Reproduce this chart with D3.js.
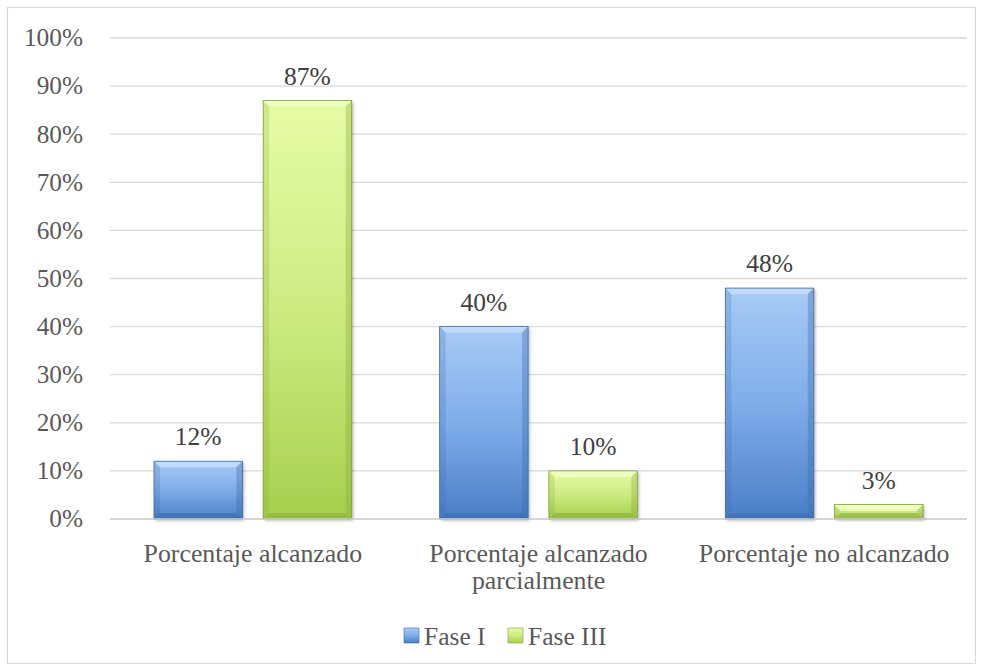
<!DOCTYPE html>
<html>
<head>
<meta charset="utf-8">
<script src="https://cdn.jsdelivr.net/npm/d3@7"></script>
<style>
  html, body { margin: 0; padding: 0; background: #fff; }
  svg { display: block; }
</style>
</head>
<body>
<svg id="chart" width="983" height="671"></svg>
<script>
const categories = [["Porcentaje alcanzado"], ["Porcentaje alcanzado", "parcialmente"], ["Porcentaje no alcanzado"]];
const seriesNames = ["Fase I", "Fase III"];
const faseI = [12, 40, 48];
const faseIII = [87, 10, 3];
const yTicks = [0, 10, 20, 30, 40, 50, 60, 70, 80, 90, 100];

const FONT = "Liberation Serif";
const svg = d3.select("#chart");
const W = 983, H = 671;
const plot = { left: 110, right: 967, top: 38, bottom: 519 };

// frame
svg.append("rect").attr("x", 7.5).attr("y", 7.5).attr("width", W - 15).attr("height", H - 15)
  .attr("fill", "#fff").attr("stroke", "#d9d9d9").attr("stroke-width", 1.2);

const defs = svg.append("defs");
const palettes = [
  { id: "gI", top: "#a9cbf6", mid: "#7fadea", bot: "#4a7ec6", edge: "#3d68a3", light: "#c7defb", dark: "#3a67a6" },
  { id: "gIII", top: "#e6fca6", mid: "#cdeb82", bot: "#a6cf4c", edge: "#7f9e37", light: "#f2ffc6", dark: "#86a93a" }
];
palettes.forEach(p => {
  const g = defs.append("linearGradient").attr("id", p.id).attr("x1", 0).attr("y1", 0).attr("x2", 0).attr("y2", 1);
  g.append("stop").attr("offset", "0%").attr("stop-color", p.top);
  g.append("stop").attr("offset", "50%").attr("stop-color", p.mid);
  g.append("stop").attr("offset", "100%").attr("stop-color", p.bot);
});
const sh = defs.append("filter").attr("id", "shadow").attr("x", "-20%").attr("y", "-20%").attr("width", "140%").attr("height", "140%");
sh.append("feDropShadow").attr("dx", 1.5).attr("dy", 1.5).attr("stdDeviation", 1.5).attr("flood-color", "#000").attr("flood-opacity", 0.3);

const x0 = d3.scaleBand().domain(d3.range(categories.length)).range([plot.left, plot.right]).paddingInner(0).paddingOuter(0);
const x1 = d3.scaleBand().domain(d3.range(seriesNames.length)).range([44, x0.bandwidth() - 44]).paddingInner(0.19);
const y = d3.scaleLinear().domain([0, 100]).range([plot.bottom, plot.top]);

// gridlines
svg.append("g").selectAll("line").data(yTicks).join("line")
  .attr("x1", plot.left).attr("x2", plot.right)
  .attr("y1", d => y(d)).attr("y2", d => y(d))
  .attr("stroke", "#d9d9d9").attr("stroke-width", 1.3);

// y tick labels
svg.append("g").selectAll("text").data(yTicks).join("text")
  .attr("x", 83).attr("y", d => y(d)).attr("dy", "0.33em")
  .attr("text-anchor", "end").attr("font-family", FONT).attr("font-size", 25.3).attr("fill", "#595959")
  .text(d => d + "%");

const seriesData = [faseI, faseIII];
const bars = [];
seriesData.forEach((vals, s) => {
  vals.forEach((v, i) => bars.push({ s, i, v }));
});

const bw = x1.bandwidth();
const bev = 6;
const gBars = svg.append("g");
bars.forEach(b => {
  const p = palettes[b.s];
  const bx = x0(b.i) + x1(b.s);
  const by = y(b.v);
  const bh = y(0) - by;
  const e = Math.min(bev, bh / 2);
  const g = gBars.append("g");
  g.append("rect").attr("x", bx).attr("y", by).attr("width", bw).attr("height", bh)
    .attr("fill", `url(#${p.id})`).attr("filter", "url(#shadow)");
  // bevel edges
  g.append("polygon").attr("points", [[bx, by], [bx + bw, by], [bx + bw - e, by + e], [bx + e, by + e]].join(" "))
    .attr("fill", p.light).attr("opacity", 0.85);
  g.append("polygon").attr("points", [[bx, by], [bx + e, by + e], [bx + e, by + bh - e], [bx, by + bh]].join(" "))
    .attr("fill", p.dark).attr("opacity", 0.22);
  g.append("polygon").attr("points", [[bx + bw, by], [bx + bw, by + bh], [bx + bw - e, by + bh - e], [bx + bw - e, by + e]].join(" "))
    .attr("fill", p.dark).attr("opacity", 0.35);
  g.append("polygon").attr("points", [[bx, by + bh], [bx + e, by + bh - e], [bx + bw - e, by + bh - e], [bx + bw, by + bh]].join(" "))
    .attr("fill", p.dark).attr("opacity", 0.55);
  g.append("rect").attr("x", bx).attr("y", by).attr("width", bw).attr("height", bh)
    .attr("fill", "none").attr("stroke", p.edge).attr("stroke-width", 0.8);
  // value label
  svg.append("text").attr("x", bx + bw / 2).attr("y", by - 16)
    .attr("text-anchor", "middle").attr("font-family", FONT).attr("font-size", 25.5).attr("fill", "#404040")
    .text(b.v + "%");
});

// axis baseline
svg.append("line").attr("x1", plot.left).attr("x2", plot.right).attr("y1", y(0)).attr("y2", y(0))
  .attr("stroke", "#d0d0d0").attr("stroke-width", 1.5);

// category labels
categories.forEach((lines, i) => {
  const cx = x0(i) + x0.bandwidth() / 2;
  const t = svg.append("text").attr("x", cx).attr("y", 562)
    .attr("text-anchor", "middle").attr("font-family", FONT).attr("font-size", 25.8).attr("fill", "#595959");
  lines.forEach((ln, k) => t.append("tspan").attr("x", cx).attr("dy", k ? 27 : 0).text(ln));
});

// legend
const legend = svg.append("g");
const legendItems = [{ name: seriesNames[0], x: 404 }, { name: seriesNames[1], x: 508 }];
legendItems.forEach((it, s) => {
  const p = palettes[s];
  legend.append("rect").attr("x", it.x).attr("y", 628).attr("width", 15).attr("height", 15)
    .attr("fill", `url(#${p.id})`).attr("stroke", p.edge).attr("stroke-width", 0.6);
  legend.append("text").attr("x", it.x + 20).attr("y", 645)
    .attr("font-family", FONT).attr("font-size", 25.5).attr("fill", "#595959").text(it.name);
});
</script>
</body>
</html>
